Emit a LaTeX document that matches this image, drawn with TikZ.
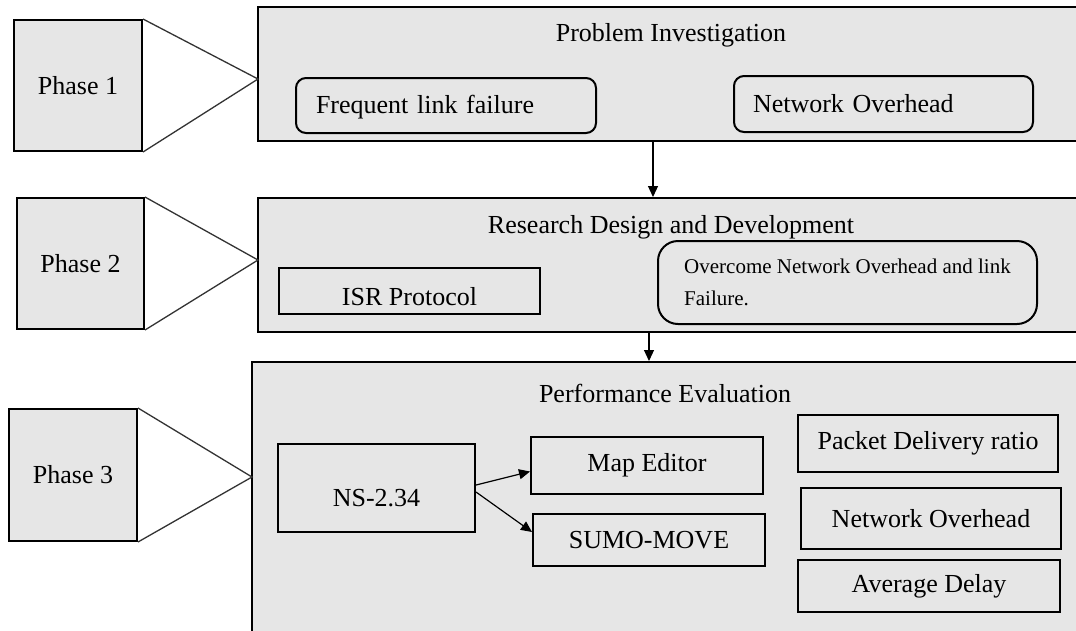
\documentclass[tikz,border=0pt]{standalone}
\usepackage{fontspec}
\setmainfont{Liberation Serif}
\usetikzlibrary{arrows.meta}
\definecolor{boxGray}{RGB}{230,230,230}
\tikzstyle{stageBox} = [draw=black, fill=boxGray, line width=2pt, minimum width=842pt, minimum height=134pt, inner sep=0pt]
\tikzstyle{phaseBox} = [draw=black, fill=boxGray, line width=2pt, minimum width=128pt, minimum height=131pt, inner sep=0pt]
\tikzstyle{itemBox} = [draw=black, line width=2pt, inner sep=0pt]
\tikzstyle{roundBox} = [itemBox, rounded corners=10pt]
\tikzstyle{phaseLine} = [color=black!80, line width=1.3pt]
\tikzstyle{flowArrow} = [color=black, line width=1.2pt, -{Triangle[length=11pt,width=10pt]}]
\newcommand{\bigText}{\fontsize{26}{31}\selectfont}
\newcommand{\smallText}{\fontsize{21}{32}\selectfont}
\newcommand{\phaseLink}[2]{\draw [phaseLine] (#1.north east) -- (#2) -- (#1.south east);}

\begin{document}
\begin{tikzpicture}[x = 1pt, y = -1pt, every node/.style={font=\bigText}]
  \clip (0,0) rectangle (1076,630);
  \fill [white] (0,0) rectangle (1076,630);

  % phase 1
  \node [phaseBox] (phaseA) at (78,85.5) {Phase 1};
  \node [stageBox] (stageA) at (679,74) {};
  \node (titleA) at (671,35) {Problem Investigation};
  \node [roundBox, minimum width=300pt, minimum height=55pt, text width=260pt, align=left, text height=22pt] (failA) at (446,105.5) {Frequent link failure};
  \node [roundBox, minimum width=299pt, minimum height=56pt, text width=261pt, align=left] (overA) at (883.5,104) {Network Overhead};
  \coordinate (apexA) at (258,79);
  \phaseLink{phaseA}{apexA}

  % phase 2
  \node [phaseBox, minimum width=127pt] (phaseB) at (80.5,263.5) {Phase 2};
  \node [stageBox] (stageB) at (679,265) {};
  \node (titleB) at (671,227) {Research Design and Development};
  \node [itemBox, minimum width=261pt, minimum height=46pt, text height=29pt, text depth=0pt] (isrB) at (409.5,291) {ISR Protocol};
  \node [roundBox, rounded corners=20pt, minimum width=379pt, minimum height=83pt, align=left, font=\smallText] (overcomeB) at (847.5,282.5) {Overcome Network Overhead and link\\Failure.};
  \coordinate (apexB) at (258,260);
  \phaseLink{phaseB}{apexB}

  % phase 3
  \node [phaseBox, minimum height=132pt] (phaseC) at (73,475) {Phase 3};
  \node [stageBox, minimum width=848pt, minimum height=278pt] (stageC) at (676,501) {};
  \node (titleC) at (665,393) {Performance Evaluation};
  \node [itemBox, minimum width=197pt, minimum height=88pt, text height=37pt, text depth=0pt] (nsC) at (376.5,488) {NS-2.34};
  \node [itemBox, minimum width=232pt, minimum height=57pt] (mapC) at (647,465.5) {Map Editor};
  \node [itemBox, minimum width=232pt, minimum height=52pt] (sumoC) at (649,540) {SUMO-MOVE};
  \node [itemBox, minimum width=260pt, minimum height=57pt] (pdrC) at (928,443.5) {Packet Delivery ratio};
  \node [itemBox, minimum width=260pt, minimum height=61pt] (nohC) at (931,518.5) {Network Overhead};
  \node [itemBox, minimum width=262pt, minimum height=52pt] (delayC) at (929,586) {Average Delay};
  \coordinate (apexC) at (252,477);
  \phaseLink{phaseC}{apexC}

  % arrows
  \draw [flowArrow] ([xshift=-26pt]stageA.south) -- ([xshift=-26pt]stageA.south |- stageB.north);
  \draw [flowArrow] ([xshift=-30pt]stageB.south) -- ([xshift=-30pt]stageB.south |- stageC.north);
  \draw [flowArrow] ([yshift=3pt]nsC.east) -- ([yshift=-6pt]mapC.west);
  \draw [flowArrow] ([yshift=-4pt]nsC.east) -- ([yshift=8pt]sumoC.west);
\end{tikzpicture}
\end{document}
